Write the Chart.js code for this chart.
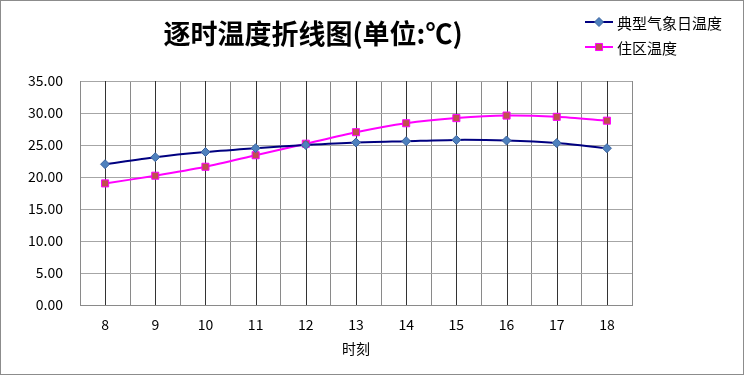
<!DOCTYPE html>
<html>
<head>
<meta charset="utf-8">
<script src="https://cdn.jsdelivr.net/npm/chart.js@4/dist/chart.umd.min.js"></script>
<style>
    html, body { margin: 0; padding: 0; background: #fff; }
    #wrap { width: 744px; height: 375px; }
</style>
</head>
<body>
<div id="wrap"><canvas id="chart"></canvas></div>
<script>
const hours = ["8", "9", "10", "11", "12", "13", "14", "15", "16", "17", "18"];
const typicalDayTemp = [22.0, 23.1, 23.9, 24.5, 25.0, 25.4, 25.6, 25.8, 25.7, 25.3, 24.5];
const residentialTemp = [19.0, 20.2, 21.6, 23.4, 25.2, 27.0, 28.4, 29.2, 29.6, 29.4, 28.8];
const seriesNames = ["典型气象日温度", "住区温度"];
const chartTitle = "逐时温度折线图(单位:℃)";
const xTitle = "时刻";

const FONT = "'Noto Sans CJK SC', 'Noto Sans', sans-serif";

// frame, title and the two-row legend in the top right corner
const decorations = {
    id: "decorations",
    beforeDraw(chart) {
        const { ctx, width, height } = chart;
        ctx.save();
        ctx.fillStyle = "#fff";
        ctx.fillRect(0, 0, width, height);
        ctx.restore();
    },
    beforeDatasetsDraw(chart) {
        // dark lines through every category centre
        const { ctx, chartArea } = chart;
        const x = chart.scales.x;
        ctx.save();
        ctx.strokeStyle = "#333";
        ctx.lineWidth = 1;
        for(let i = 0; i < hours.length; i++) {
            const px = Math.round(x.getPixelForValue(i)) + 0.5;
            ctx.beginPath();
            ctx.moveTo(px, chartArea.top);
            ctx.lineTo(px, chartArea.bottom);
            ctx.stroke();
        }
        ctx.restore();
    },
    afterDraw(chart) {
        const { ctx, width, height } = chart;
        ctx.save();

        ctx.strokeStyle = "#8c8c8c";
        ctx.lineWidth = 1;
        ctx.strokeRect(0.5, 0.5, width - 1, height - 1);

        ctx.font = "bold 27px " + FONT;
        ctx.fillStyle = "#000";
        ctx.textAlign = "center";
        ctx.textBaseline = "middle";
        ctx.fillText(chartTitle, 313, 34);

        ctx.font = "15px " + FONT;
        ctx.textAlign = "left";
        const rows = [22, 47];
        chart.data.datasets.forEach((ds, i) => {
            const y = rows[i];
            ctx.strokeStyle = ds.borderColor;
            ctx.lineWidth = ds.borderWidth;
            ctx.beginPath();
            ctx.moveTo(585, y);
            ctx.lineTo(613, y);
            ctx.stroke();
            ctx.fillStyle = ds.pointBackgroundColor;
            ctx.strokeStyle = ds.pointBorderColor;
            ctx.lineWidth = ds.pointBorderWidth;
            Chart.helpers.drawPoint(ctx, {
                pointStyle: ds.pointStyle,
                radius: ds.pointRadius,
                rotation: 0,
                borderWidth: ds.pointBorderWidth,
            }, 599, y);
            ctx.fillStyle = "#000";
            ctx.fillText(ds.label, 617, y + 1);
        });

        ctx.restore();
    },
};

new Chart(document.getElementById("chart"), {
    type: "line",
    data: {
        labels: hours,
        datasets: [
            {
                label: seriesNames[0],
                data: typicalDayTemp,
                borderColor: "#000080",
                borderWidth: 2,
                pointStyle: "rectRot",
                pointRadius: 4.5,
                pointBackgroundColor: "#4f81bd",
                pointBorderColor: "#3c64a0",
                pointBorderWidth: 1,
                tension: 0.25,
            },
            {
                label: seriesNames[1],
                data: residentialTemp,
                borderColor: "#ff00ff",
                borderWidth: 2,
                pointStyle: "rect",
                pointRadius: 5,
                pointBackgroundColor: "#c0504d",
                pointBorderColor: "#ff00ff",
                pointBorderWidth: 1,
                tension: 0.25,
            },
        ],
    },
    options: {
        responsive: true,
        maintainAspectRatio: false,
        animation: false,
        layout: {
            padding: { left: 0, right: 112, top: 81, bottom: 10 },
        },
        plugins: {
            legend: { display: false },
            title: { display: false },
            tooltip: { enabled: false },
        },
        scales: {
            x: {
                offset: true,
                grid: {
                    offset: true,
                    color: "#8a8a8a",
                    drawTicks: false,
                },
                border: { color: "#8a8a8a" },
                ticks: {
                    color: "#000",
                    padding: 11,
                    font: { family: FONT, size: 14 },
                    maxRotation: 0,
                },
                title: {
                    display: true,
                    text: xTitle,
                    color: "#000",
                    font: { family: FONT, size: 14 },
                    padding: { top: 0, bottom: 8 },
                },
                afterFit(scale) {
                    scale.height = 60;
                },
            },
            y: {
                min: 0,
                max: 35,
                grid: {
                    color: "#a6a6a6",
                    drawTicks: false,
                },
                border: { color: "#8a8a8a" },
                ticks: {
                    stepSize: 5,
                    color: "#000",
                    padding: 17,
                    font: { family: FONT, size: 14 },
                    callback: v => v.toFixed(2),
                },
                afterFit(scale) {
                    scale.width = 80;
                },
            },
        },
    },
    plugins: [decorations],
});
</script>
</body>
</html>
